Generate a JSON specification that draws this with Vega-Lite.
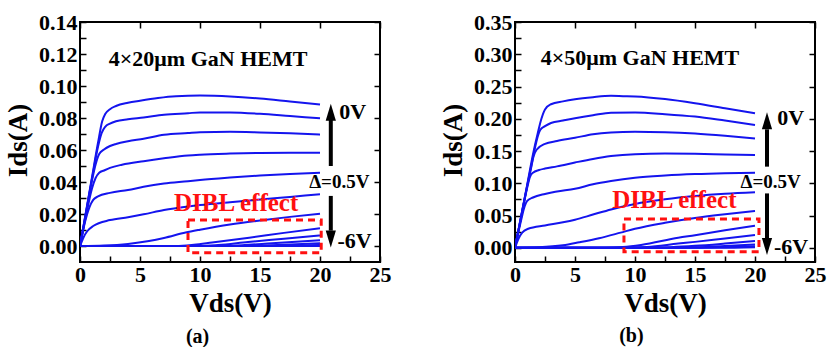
{
"$schema":"https://vega.github.io/schema/vega-lite/v6.json",
"background":"white",
"padding":{"left":3,"top":10,"right":0,"bottom":0},
"spacing":135,
"bounds":"flush",
"datasets":{
"ca":[
{"c":1,"v":0,"i":0},{"c":1,"v":0.5,"i":0.0215},{"c":1,"v":1,"i":0.043},{"c":1,"v":1.5,"i":0.0645},{"c":1,"v":1.85,"i":0.078},{"c":1,"v":2.1,"i":0.0825},{"c":1,"v":2.5,"i":0.0855},{"c":1,"v":3,"i":0.0875},{"c":1,"v":4,"i":0.0895},{"c":1,"v":5,"i":0.0908},{"c":1,"v":6.5,"i":0.0925},{"c":1,"v":8,"i":0.0936},{"c":1,"v":10,"i":0.094},{"c":1,"v":12.5,"i":0.0935},{"c":1,"v":15,"i":0.0922},{"c":1,"v":17.5,"i":0.0903},{"c":1,"v":20,"i":0.0884},
{"c":2,"v":0,"i":0},{"c":2,"v":0.5,"i":0.021},{"c":2,"v":1,"i":0.042},{"c":2,"v":1.5,"i":0.062},{"c":2,"v":1.8,"i":0.0705},{"c":2,"v":2.1,"i":0.0745},{"c":2,"v":2.5,"i":0.0765},{"c":2,"v":3,"i":0.078},{"c":2,"v":4,"i":0.0792},{"c":2,"v":5.3,"i":0.0803},{"c":2,"v":7,"i":0.082},{"c":2,"v":9,"i":0.083},{"c":2,"v":10,"i":0.0835},{"c":2,"v":12.5,"i":0.0834},{"c":2,"v":15,"i":0.0826},{"c":2,"v":17.5,"i":0.0812},{"c":2,"v":20,"i":0.0798},
{"c":3,"v":0,"i":0},{"c":3,"v":0.5,"i":0.0205},{"c":3,"v":1,"i":0.041},{"c":3,"v":1.3,"i":0.051},{"c":3,"v":1.6,"i":0.0575},{"c":3,"v":2,"i":0.0603},{"c":3,"v":2.5,"i":0.0625},{"c":3,"v":3,"i":0.0638},{"c":3,"v":4,"i":0.0655},{"c":3,"v":5.3,"i":0.067},{"c":3,"v":7,"i":0.0695},{"c":3,"v":9,"i":0.0706},{"c":3,"v":10,"i":0.0711},{"c":3,"v":12.5,"i":0.0714},{"c":3,"v":15,"i":0.071},{"c":3,"v":17.5,"i":0.0704},{"c":3,"v":20,"i":0.0696},
{"c":4,"v":0,"i":0},{"c":4,"v":0.5,"i":0.019},{"c":4,"v":1,"i":0.036},{"c":4,"v":1.3,"i":0.0425},{"c":4,"v":1.6,"i":0.0458},{"c":4,"v":2,"i":0.0472},{"c":4,"v":2.5,"i":0.0488},{"c":4,"v":3.5,"i":0.0508},{"c":4,"v":5.3,"i":0.053},{"c":4,"v":7,"i":0.0548},{"c":4,"v":9,"i":0.0566},{"c":4,"v":10,"i":0.0571},{"c":4,"v":12.5,"i":0.0578},{"c":4,"v":15,"i":0.0582},{"c":4,"v":17.5,"i":0.0583},{"c":4,"v":20,"i":0.0583},
{"c":5,"v":0,"i":0},{"c":5,"v":0.4,"i":0.0145},{"c":5,"v":0.8,"i":0.0245},{"c":5,"v":1.1,"i":0.0288},{"c":5,"v":1.5,"i":0.031},{"c":5,"v":2.5,"i":0.0332},{"c":5,"v":4,"i":0.035},{"c":5,"v":5.3,"i":0.037},{"c":5,"v":7,"i":0.039},{"c":5,"v":9,"i":0.0405},{"c":5,"v":10,"i":0.0413},{"c":5,"v":12.5,"i":0.0428},{"c":5,"v":15,"i":0.044},{"c":5,"v":17.5,"i":0.045},{"c":5,"v":20,"i":0.0458},
{"c":6,"v":0,"i":0},{"c":6,"v":0.3,"i":0.0055},{"c":6,"v":0.6,"i":0.0092},{"c":6,"v":1.1,"i":0.0125},{"c":6,"v":2.5,"i":0.0162},{"c":6,"v":4,"i":0.018},{"c":6,"v":5.3,"i":0.0198},{"c":6,"v":7,"i":0.0225},{"c":6,"v":9,"i":0.0247},{"c":6,"v":10,"i":0.0256},{"c":6,"v":12.5,"i":0.0274},{"c":6,"v":15,"i":0.029},{"c":6,"v":17.5,"i":0.0307},{"c":6,"v":20,"i":0.0324},
{"c":7,"v":0,"i":0},{"c":7,"v":2,"i":0.0003},{"c":7,"v":4,"i":0.0013},{"c":7,"v":5.75,"i":0.0031},{"c":7,"v":7,"i":0.005},{"c":7,"v":8.8,"i":0.0084},{"c":7,"v":10,"i":0.0102},{"c":7,"v":12.5,"i":0.0135},{"c":7,"v":15,"i":0.016},{"c":7,"v":17.5,"i":0.0182},{"c":7,"v":20,"i":0.0201},
{"c":8,"v":0,"i":0},{"c":8,"v":8,"i":0},{"c":8,"v":9.5,"i":0.0008},{"c":8,"v":11,"i":0.0022},{"c":8,"v":14.1,"i":0.0052},{"c":8,"v":17,"i":0.0082},{"c":8,"v":20,"i":0.0111},
{"c":9,"v":0,"i":0},{"c":9,"v":10,"i":0},{"c":9,"v":11.5,"i":0.0006},{"c":9,"v":14,"i":0.0025},{"c":9,"v":17,"i":0.0045},{"c":9,"v":20,"i":0.0066},
{"c":10,"v":0,"i":0},{"c":10,"v":12,"i":0},{"c":10,"v":13.5,"i":0.0005},{"c":10,"v":16,"i":0.0017},{"c":10,"v":20,"i":0.0036},
{"c":11,"v":0,"i":0},{"c":11,"v":14,"i":0},{"c":11,"v":16,"i":0.0005},{"c":11,"v":20,"i":0.0017},
{"c":12,"v":0,"i":0},{"c":12,"v":15,"i":0},{"c":12,"v":17,"i":0.0002},{"c":12,"v":20,"i":0.0006},
{"c":13,"v":0,"i":0},{"c":13,"v":20,"i":0}
],
"cb":[
{"c":1,"v":0,"i":0},{"c":1,"v":0.5,"i":0.048},{"c":1,"v":1,"i":0.096},{"c":1,"v":1.5,"i":0.145},{"c":1,"v":1.9,"i":0.178},{"c":1,"v":2.2,"i":0.2},{"c":1,"v":2.5,"i":0.2145},{"c":1,"v":3,"i":0.2225},{"c":1,"v":4,"i":0.227},{"c":1,"v":5,"i":0.2303},{"c":1,"v":6.5,"i":0.2335},{"c":1,"v":8,"i":0.2355},{"c":1,"v":9,"i":0.235},{"c":1,"v":10,"i":0.2345},{"c":1,"v":12.5,"i":0.2305},{"c":1,"v":15,"i":0.224},{"c":1,"v":17.5,"i":0.2162},{"c":1,"v":20,"i":0.2085},
{"c":2,"v":0,"i":0},{"c":2,"v":0.5,"i":0.0475},{"c":2,"v":1,"i":0.095},{"c":2,"v":1.5,"i":0.14},{"c":2,"v":1.8,"i":0.166},{"c":2,"v":2.1,"i":0.1825},{"c":2,"v":2.5,"i":0.1885},{"c":2,"v":3,"i":0.1935},{"c":2,"v":4,"i":0.1972},{"c":2,"v":5,"i":0.2008},{"c":2,"v":6.5,"i":0.2055},{"c":2,"v":8,"i":0.2095},{"c":2,"v":10,"i":0.2097},{"c":2,"v":12.5,"i":0.2072},{"c":2,"v":15,"i":0.2034},{"c":2,"v":17.5,"i":0.1972},{"c":2,"v":20,"i":0.1905},
{"c":3,"v":0,"i":0},{"c":3,"v":0.5,"i":0.047},{"c":3,"v":1,"i":0.094},{"c":3,"v":1.3,"i":0.12},{"c":3,"v":1.55,"i":0.142},{"c":3,"v":1.8,"i":0.152},{"c":3,"v":2.5,"i":0.1612},{"c":3,"v":3.5,"i":0.1655},{"c":3,"v":5,"i":0.1705},{"c":3,"v":6.5,"i":0.176},{"c":3,"v":8,"i":0.1788},{"c":3,"v":10,"i":0.18},{"c":3,"v":12.5,"i":0.1792},{"c":3,"v":15,"i":0.177},{"c":3,"v":17.5,"i":0.1735},{"c":3,"v":20,"i":0.1693},
{"c":4,"v":0,"i":0},{"c":4,"v":0.5,"i":0.046},{"c":4,"v":1,"i":0.092},{"c":4,"v":1.25,"i":0.11},{"c":4,"v":1.5,"i":0.1165},{"c":4,"v":2,"i":0.1205},{"c":4,"v":2.5,"i":0.1228},{"c":4,"v":3.5,"i":0.1262},{"c":4,"v":5,"i":0.1322},{"c":4,"v":6.5,"i":0.1378},{"c":4,"v":8,"i":0.1422},{"c":4,"v":10,"i":0.1452},{"c":4,"v":12.5,"i":0.1462},{"c":4,"v":15,"i":0.1458},{"c":4,"v":17.5,"i":0.1448},{"c":4,"v":20,"i":0.1439},
{"c":5,"v":0,"i":0},{"c":5,"v":0.5,"i":0.042},{"c":5,"v":0.8,"i":0.064},{"c":5,"v":1,"i":0.0725},{"c":5,"v":1.5,"i":0.078},{"c":5,"v":2.5,"i":0.0835},{"c":5,"v":3.5,"i":0.0872},{"c":5,"v":5,"i":0.0915},{"c":5,"v":6.5,"i":0.0985},{"c":5,"v":8,"i":0.1035},{"c":5,"v":10,"i":0.1085},{"c":5,"v":12.5,"i":0.112},{"c":5,"v":15,"i":0.1143},{"c":5,"v":17.5,"i":0.1157},{"c":5,"v":20,"i":0.1165},
{"c":6,"v":0,"i":0},{"c":6,"v":0.3,"i":0.0145},{"c":6,"v":0.6,"i":0.0235},{"c":6,"v":1.1,"i":0.0295},{"c":6,"v":2.5,"i":0.0347},{"c":6,"v":4,"i":0.0395},{"c":6,"v":5,"i":0.0435},{"c":6,"v":6.5,"i":0.0515},{"c":6,"v":8,"i":0.0595},{"c":6,"v":10,"i":0.068},{"c":6,"v":12.5,"i":0.0752},{"c":6,"v":15,"i":0.0803},{"c":6,"v":17.5,"i":0.0838},{"c":6,"v":20,"i":0.0861},
{"c":7,"v":0,"i":0},{"c":7,"v":2,"i":0.0008},{"c":7,"v":4,"i":0.0038},{"c":7,"v":5.36,"i":0.0085},{"c":7,"v":7,"i":0.0148},{"c":7,"v":8.8,"i":0.0235},{"c":7,"v":10,"i":0.0295},{"c":7,"v":12.5,"i":0.0388},{"c":7,"v":15,"i":0.0462},{"c":7,"v":17.5,"i":0.052},{"c":7,"v":20,"i":0.057},
{"c":8,"v":0,"i":0},{"c":8,"v":7.5,"i":0},{"c":8,"v":9,"i":0.0012},{"c":8,"v":10.5,"i":0.0045},{"c":8,"v":13.6,"i":0.0155},{"c":8,"v":15,"i":0.0195},{"c":8,"v":17.5,"i":0.0272},{"c":8,"v":20,"i":0.0342},
{"c":9,"v":0,"i":0},{"c":9,"v":9.5,"i":0},{"c":9,"v":11,"i":0.0012},{"c":9,"v":13.6,"i":0.0065},{"c":9,"v":15,"i":0.0092},{"c":9,"v":17.5,"i":0.0145},{"c":9,"v":20,"i":0.0197},
{"c":10,"v":0,"i":0},{"c":10,"v":11,"i":0},{"c":10,"v":13,"i":0.001},{"c":10,"v":15,"i":0.003},{"c":10,"v":17.5,"i":0.0065},{"c":10,"v":20,"i":0.0104},
{"c":11,"v":0,"i":0},{"c":11,"v":13,"i":0},{"c":11,"v":15,"i":0.0008},{"c":11,"v":17.5,"i":0.0028},{"c":11,"v":20,"i":0.0052},
{"c":12,"v":0,"i":0},{"c":12,"v":15,"i":0},{"c":12,"v":17.5,"i":0.001},{"c":12,"v":20,"i":0.0026},
{"c":13,"v":0,"i":0},{"c":13,"v":17,"i":0},{"c":13,"v":20,"i":0.001}
]
},
"hconcat":[
{
"width":300,"height":240,
"resolve":{"axis":{"x":"independent","y":"independent"}},
"layer":[
{"data":{"name":"ca"},
 "mark":{"type":"line","interpolate":"monotone","color":"#1414EE","strokeWidth":2,"clip":true},
 "encoding":{
  "x":{"field":"v","type":"quantitative","scale":{"domain":[0,25],"nice":false,"zero":false},
       "axis":{"orient":"bottom","values":[0,2.5,5,7.5,10,12.5,15,17.5,20,22.5,25],"labelExpr":"datum.value % 5 == 0 ? datum.label : ''","tickSize":-6,"labelPadding":8,"labelFlush":false,"labelBound":false,"labelOverlap":false,"title":"Vds(V)","titleX":150,"titleY":41,"titleBaseline":"middle","titleAlign":"center"}},
  "y":{"field":"i","type":"quantitative","scale":{"domain":[-0.01,0.14],"nice":false,"zero":false},
       "axis":{"orient":"left","values":[0,0.01,0.02,0.03,0.04,0.05,0.06,0.07,0.08,0.09,0.1,0.11,0.12,0.13,0.14],"labelExpr":"round(datum.value*100) % 2 == 0 ? format(datum.value,'.2f') : ''","tickSize":-6,"labelPadding":9,"labelOverlap":false,"labelFlush":false,"labelBound":false,"title":"Ids(A)","titleX":-62,"titleY":118,"titleAngle":-90,"titleAlign":"center","titleBaseline":"middle"}},
  "detail":{"field":"c","type":"nominal"}
 }},
{"data":{"values":[{"t":"4×20μm GaN HEMT","v":2.4,"i":0.117}]},
 "mark":{"type":"text","align":"left","baseline":"middle","font":"Liberation Serif","fontWeight":"bold","fontSize":22,"color":"black"},
 "encoding":{
  "x":{"field":"v","type":"quantitative","scale":{"domain":[0,25],"nice":false,"zero":false},
       "axis":{"orient":"top","values":[0,5,10,15,20,25],"labels":false,"tickSize":-6,"title":null}},
  "y":{"field":"i","type":"quantitative","scale":{"domain":[-0.01,0.14],"nice":false,"zero":false},
       "axis":{"orient":"right","values":[0,0.02,0.04,0.06,0.08,0.1,0.12,0.14],"labels":false,"tickSize":-6,"title":null}},
  "text":{"field":"t"}
 }},
{"data":{"values":[{"t":"Δ=0.5V","v":19.1,"i":0.0403}]},
 "mark":{"type":"text","align":"left","baseline":"middle","font":"Liberation Serif","fontWeight":"bold","fontSize":19,"color":"black"},
 "encoding":{"x":{"field":"v","type":"quantitative","axis":null},"y":{"field":"i","type":"quantitative","axis":null},"text":{"field":"t"}}},
{"data":{"values":[{"t":"0V","v":21.6,"i":0.0836},{"t":"-6V","v":21.45,"i":0.0031}]},
 "mark":{"type":"text","align":"left","baseline":"middle","font":"Liberation Serif","fontWeight":"bold","fontSize":22,"color":"black"},
 "encoding":{"x":{"field":"v","type":"quantitative","axis":null},"y":{"field":"i","type":"quantitative","axis":null},"text":{"field":"t"}}},
{"data":{"values":[{"t":"DIBL effect","v":7.83,"i":0.0271}]},
 "mark":{"type":"text","align":"left","baseline":"middle","font":"Liberation Serif","fontWeight":"bold","fontSize":25,"color":"#FF1010"},
 "encoding":{"x":{"field":"v","type":"quantitative","axis":null},"y":{"field":"i","type":"quantitative","axis":null},"text":{"field":"t"}}},
{"data":{"values":[{"t":"(a)","v":9.8,"i":-0.057}]},
 "mark":{"type":"text","align":"center","baseline":"middle","font":"Liberation Serif","fontWeight":"bold","fontSize":20,"color":"black"},
 "encoding":{"x":{"field":"v","type":"quantitative","axis":null},"y":{"field":"i","type":"quantitative","axis":null},"text":{"field":"t"}}},
{"data":{"values":[{"x1":9.0,"x2":20.1,"y1":0.0163,"y2":-0.0042}]},
 "mark":{"type":"rect","fillOpacity":0,"stroke":"#FF1010","strokeWidth":3,"strokeDash":[7,5]},
 "encoding":{"x":{"field":"x1","type":"quantitative","axis":null},"x2":{"field":"x2"},"y":{"field":"y1","type":"quantitative","axis":null},"y2":{"field":"y2"}}},
{"data":{"values":[{"v":20.9,"a":0.050,"b":0.079},{"v":20.9,"a":0.0313,"b":0.0096}]},
 "mark":{"type":"rule","color":"black","strokeWidth":4},
 "encoding":{"x":{"field":"v","type":"quantitative","axis":null},"y":{"field":"a","type":"quantitative","axis":null},"y2":{"field":"b"}}},
{"data":{"values":[{"v":20.9,"i":0.0836,"d":"up"},{"v":20.9,"i":0.0044,"d":"down"}]},
 "mark":{"type":"point","filled":true,"color":"black","size":289,"opacity":1,"strokeWidth":0},
 "encoding":{"x":{"field":"v","type":"quantitative","axis":null},"y":{"field":"i","type":"quantitative","axis":null},
  "shape":{"field":"d","type":"nominal","scale":{"domain":["up","down"],"range":["M0,-1L0.6,1L-0.6,1Z","M0,1L0.6,-1L-0.6,-1Z"]},"legend":null}}}
]
},
{
"width":300,"height":240,
"resolve":{"axis":{"x":"independent","y":"independent"}},
"layer":[
{"data":{"name":"cb"},
 "mark":{"type":"line","interpolate":"monotone","color":"#1414EE","strokeWidth":2,"clip":true},
 "encoding":{
  "x":{"field":"v","type":"quantitative","scale":{"domain":[0,25],"nice":false,"zero":false},
       "axis":{"orient":"bottom","values":[0,2.5,5,7.5,10,12.5,15,17.5,20,22.5,25],"labelExpr":"datum.value % 5 == 0 ? datum.label : ''","tickSize":-6,"labelPadding":8,"labelFlush":false,"labelBound":false,"labelOverlap":false,"title":"Vds(V)","titleX":150,"titleY":41,"titleBaseline":"middle","titleAlign":"center"}},
  "y":{"field":"i","type":"quantitative","scale":{"domain":[-0.022,0.35],"nice":false,"zero":false},
       "axis":{"orient":"left","values":[0,0.025,0.05,0.075,0.1,0.125,0.15,0.175,0.2,0.225,0.25,0.275,0.3,0.325,0.35],"labelExpr":"round(datum.value*1000) % 50 == 0 ? format(datum.value,'.2f') : ''","tickSize":-6,"labelPadding":9,"labelOverlap":false,"labelFlush":false,"labelBound":false,"title":"Ids(A)","titleX":-62,"titleY":118,"titleAngle":-90,"titleAlign":"center","titleBaseline":"middle"}},
  "detail":{"field":"c","type":"nominal"}
 }},
{"data":{"values":[{"t":"4×50μm GaN HEMT","v":2.14,"i":0.294}]},
 "mark":{"type":"text","align":"left","baseline":"middle","font":"Liberation Serif","fontWeight":"bold","fontSize":22,"color":"black"},
 "encoding":{
  "x":{"field":"v","type":"quantitative","scale":{"domain":[0,25],"nice":false,"zero":false},
       "axis":{"orient":"top","values":[0,5,10,15,20,25],"labels":false,"tickSize":-6,"title":null}},
  "y":{"field":"i","type":"quantitative","scale":{"domain":[-0.022,0.35],"nice":false,"zero":false},
       "axis":{"orient":"right","values":[0,0.05,0.1,0.15,0.2,0.25,0.3,0.35],"labels":false,"tickSize":-6,"title":null}},
  "text":{"field":"t"}
 }},
{"data":{"values":[{"t":"Δ=0.5V","v":18.8,"i":0.1014}]},
 "mark":{"type":"text","align":"left","baseline":"middle","font":"Liberation Serif","fontWeight":"bold","fontSize":19,"color":"black"},
 "encoding":{"x":{"field":"v","type":"quantitative","axis":null},"y":{"field":"i","type":"quantitative","axis":null},"text":{"field":"t"}}},
{"data":{"values":[{"t":"0V","v":21.86,"i":0.2008},{"t":"-6V","v":21.58,"i":0.0016}]},
 "mark":{"type":"text","align":"left","baseline":"middle","font":"Liberation Serif","fontWeight":"bold","fontSize":22,"color":"black"},
 "encoding":{"x":{"field":"v","type":"quantitative","axis":null},"y":{"field":"i","type":"quantitative","axis":null},"text":{"field":"t"}}},
{"data":{"values":[{"t":"DIBL effect","v":8.1,"i":0.074}]},
 "mark":{"type":"text","align":"left","baseline":"middle","font":"Liberation Serif","fontWeight":"bold","fontSize":25,"color":"#FF1010"},
 "encoding":{"x":{"field":"v","type":"quantitative","axis":null},"y":{"field":"i","type":"quantitative","axis":null},"text":{"field":"t"}}},
{"data":{"values":[{"t":"(b)","v":9.7,"i":-0.137}]},
 "mark":{"type":"text","align":"center","baseline":"middle","font":"Liberation Serif","fontWeight":"bold","fontSize":20,"color":"black"},
 "encoding":{"x":{"field":"v","type":"quantitative","axis":null},"y":{"field":"i","type":"quantitative","axis":null},"text":{"field":"t"}}},
{"data":{"values":[{"x1":9.08,"x2":20.33,"y1":0.0445,"y2":-0.0062}]},
 "mark":{"type":"rect","fillOpacity":0,"stroke":"#FF1010","strokeWidth":3,"strokeDash":[7,5]},
 "encoding":{"x":{"field":"x1","type":"quantitative","axis":null},"x2":{"field":"x2"},"y":{"field":"y1","type":"quantitative","axis":null},"y2":{"field":"y2"}}},
{"data":{"values":[{"v":21.0,"a":0.1258,"b":0.1837},{"v":21.0,"a":0.0843,"b":0.015}]},
 "mark":{"type":"rule","color":"black","strokeWidth":4},
 "encoding":{"x":{"field":"v","type":"quantitative","axis":null},"y":{"field":"a","type":"quantitative","axis":null},"y2":{"field":"b"}}},
{"data":{"values":[{"v":21.0,"i":0.1969,"d":"up"},{"v":21.0,"i":0.0019,"d":"down"}]},
 "mark":{"type":"point","filled":true,"color":"black","size":289,"opacity":1,"strokeWidth":0},
 "encoding":{"x":{"field":"v","type":"quantitative","axis":null},"y":{"field":"i","type":"quantitative","axis":null},
  "shape":{"field":"d","type":"nominal","scale":{"domain":["up","down"],"range":["M0,-1L0.6,1L-0.6,1Z","M0,1L0.6,-1L-0.6,-1Z"]},"legend":null}}}
]
}
],
"config":{
 "view":{"stroke":"black","strokeWidth":2},
 "axis":{"labelFont":"Liberation Serif","labelFontWeight":"bold","labelFontSize":22,"labelColor":"black","titleFont":"Liberation Serif","titleFontWeight":"bold","titleFontSize":27,"titleColor":"black","tickColor":"black","tickWidth":1.5,"grid":false,"domain":false}
}
}
